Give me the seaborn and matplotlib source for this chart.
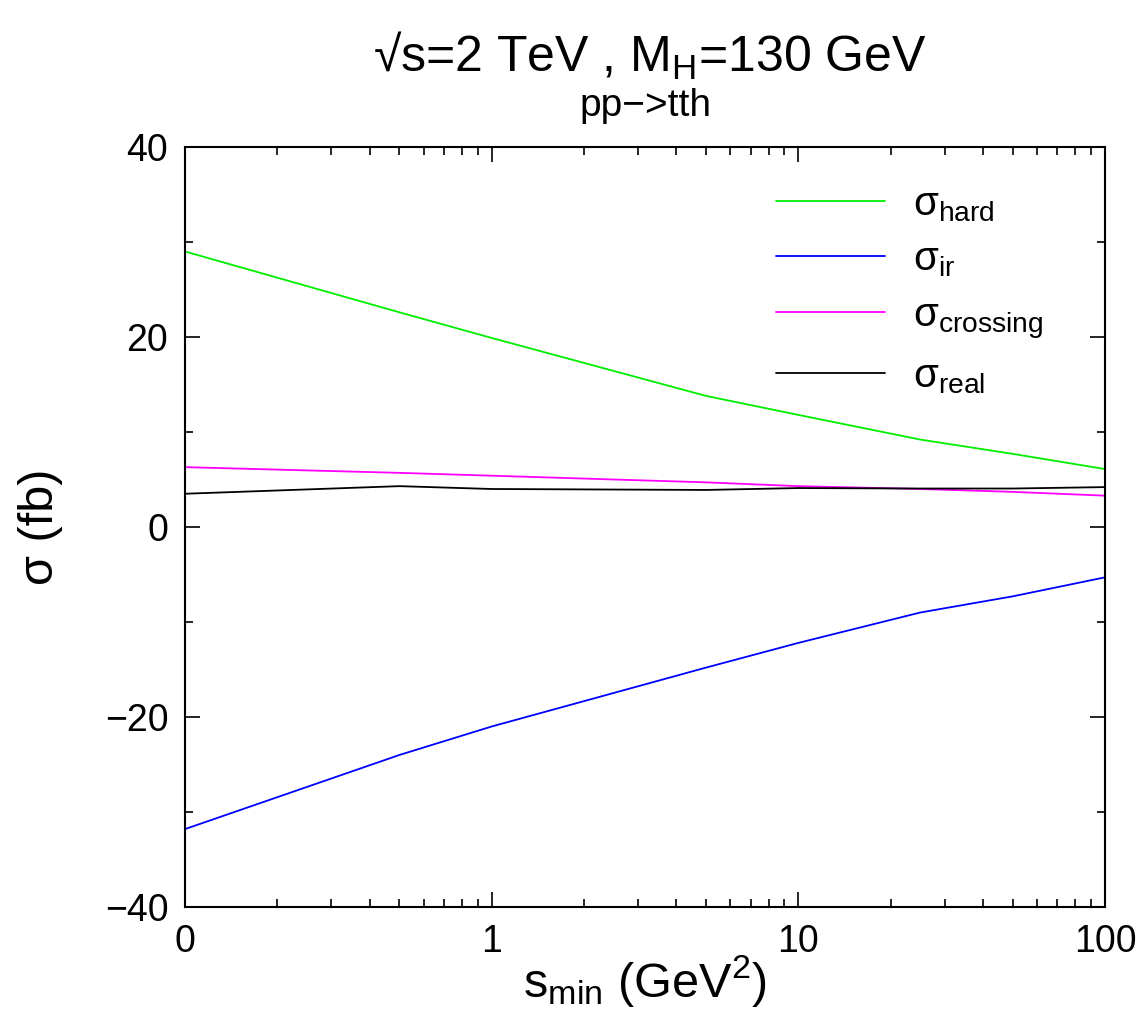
import numpy as np
import pandas as pd
import matplotlib
matplotlib.use("Agg")
import matplotlib.pyplot as plt
import seaborn as sns
from matplotlib.ticker import FixedLocator, FixedFormatter, LogLocator, MultipleLocator, NullFormatter
from matplotlib.lines import Line2D

# ---- data ----
s_min = [0.1, 0.5, 1, 5, 10, 25, 50, 100]
sigma_hard = [29.0, 22.6, 19.9, 13.8, 11.8, 9.2, 7.7, 6.1]
sigma_ir = [-31.8, -24.0, -21.0, -14.8, -12.2, -9.0, -7.3, -5.3]
sigma_crossing = [6.3, 5.7, 5.4, 4.7, 4.3, 4.0, 3.7, 3.3]
sigma_real = [3.5, 4.3, 4.0, 3.9, 4.1, 4.05, 4.05, 4.2]

series_names = ["hard", "ir", "crossing", "real"]
series_labels = [r"σ$_{\mathrm{hard}}$", r"σ$_{\mathrm{ir}}$",
                 r"σ$_{\mathrm{crossing}}$", r"σ$_{\mathrm{real}}$"]
series_colors = ["#00ee00", "#0000ff", "#ff00ff", "#000000"]
x_tick_vals = [0.1, 1, 10, 100]
x_tick_labels = ["0", "1", "10", "100"]

sns.set_theme(style="ticks")
plt.rcParams["font.family"] = ["Liberation Sans", "DejaVu Sans"]
plt.rcParams["mathtext.fontset"] = "custom"
plt.rcParams["mathtext.rm"] = "Liberation Sans"
plt.rcParams["mathtext.it"] = "Liberation Sans:italic"
plt.rcParams["mathtext.bf"] = "Liberation Sans:bold"
plt.rcParams["mathtext.sf"] = "Liberation Sans"
for k in ["text.color", "axes.labelcolor", "xtick.color", "ytick.color", "axes.edgecolor"]:
    plt.rcParams[k] = "black"

df = pd.DataFrame({
    "s_min": s_min * 4,
    "sigma": sigma_hard + sigma_ir + sigma_crossing + sigma_real,
    "series": [n for n in series_names for _ in s_min],
})

fig = plt.figure(figsize=(11.44, 10.29), dpi=100)
ax = fig.add_axes([185 / 1144, 1 - 907 / 1029, 920 / 1144, 760 / 1029])

sns.lineplot(data=df, x="s_min", y="sigma", hue="series", hue_order=series_names,
             palette=dict(zip(series_names, series_colors)), ax=ax, linewidth=1.3,
             legend=False, sort=False)

ax.set_xscale("log")
ax.set_xlim(0.1, 100)
ax.set_ylim(-40, 40)
ax.xaxis.set_major_locator(FixedLocator(x_tick_vals))
ax.xaxis.set_major_formatter(FixedFormatter(x_tick_labels))
ax.xaxis.set_minor_locator(LogLocator(base=10, subs=np.arange(2, 10)))
ax.xaxis.set_minor_formatter(NullFormatter())
ax.yaxis.set_major_locator(MultipleLocator(20))
ax.yaxis.set_minor_locator(MultipleLocator(10))

for sp in ax.spines.values():
    sp.set_linewidth(1.5)
    sp.set_color("black")
ax.tick_params(which="both", direction="in", top=True, right=True, color="black", width=1.2)
ax.tick_params(which="major", length=11, labelsize=27, pad=12)
ax.tick_params(which="minor", length=6)

ax.set_xlabel(r"s$_{\mathrm{min}}$ (GeV$^{2}$)", fontsize=35, labelpad=-5)
ax.set_ylabel("σ (fb)", fontsize=35, labelpad=30)

fig.text(650 / 1144, 1 - 56 / 1029, r"√s=2 TeV , M$_{\mathrm{H}}$=130 GeV", ha="center", va="center", fontsize=36)
fig.text(645 / 1144, 1 - 106 / 1029, "pp−>tth", ha="center", va="center", fontsize=28)

handles = [Line2D([], [], color=c, lw=1.3) for c in series_colors]
leg = ax.legend(handles, series_labels, loc="upper left",
                bbox_to_anchor=(776 / 1144, 1 - 185 / 1029), bbox_transform=fig.transFigure,
                frameon=False, fontsize=29, handlelength=2.7, handletextpad=0.7,
                labelspacing=0.42, borderpad=0, borderaxespad=0)

fig.savefig("out.png", dpi=100, facecolor="white")
